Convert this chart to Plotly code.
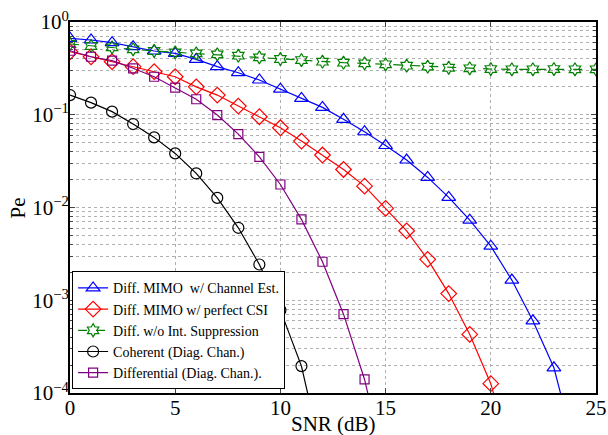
import plotly.graph_objects as go

snr_chest = list(range(0, 25))
pe_chest = [0.667, 0.64, 0.598, 0.542, 0.487, 0.459, 0.396, 0.33, 0.284, 0.237, 0.189, 0.150,
            0.120, 0.0892, 0.0656, 0.0466, 0.0325, 0.0211, 0.01285, 0.00731, 0.00383, 0.00165,
            0.0006, 0.000187, 0.000025]

snr_csi = list(range(0, 22))
pe_csi = [0.478, 0.422, 0.373, 0.330, 0.291, 0.257, 0.200, 0.163, 0.124, 0.0952, 0.0724, 0.052,
          0.0368, 0.0257, 0.017, 0.00978, 0.00561, 0.00276, 0.00118, 0.000428, 0.000126, 0.00002]

snr_noint = list(range(0, 26))
pe_noint = [0.579, 0.551, 0.533, 0.508, 0.487, 0.471, 0.459, 0.448, 0.433, 0.416, 0.399, 0.389,
            0.373, 0.364, 0.358, 0.350, 0.338, 0.330, 0.321, 0.317, 0.311, 0.309, 0.309, 0.311,
            0.309, 0.309]

snr_coh = list(range(0, 13))
pe_coh = [0.163, 0.135, 0.108, 0.0794, 0.057, 0.0383, 0.0233, 0.0127, 0.00604, 0.00243,
          0.000782, 0.000195, 0.00002]

snr_diff = list(range(0, 16))
pe_diff = [0.49, 0.422, 0.383, 0.317, 0.257, 0.196, 0.147, 0.0993, 0.0619, 0.0352, 0.0177,
           0.00744, 0.0026, 0.000708, 0.00014, 0.000015]

names = ["Diff. MIMO  w/ Channel Est.", "Diff. MIMO w/ perfect CSI", "Diff. w/o Int. Suppression",
         "Coherent (Diag. Chan.)", "Differential (Diag. Chan.)."]
x_ticks = [0, 5, 10, 15, 20, 25]
y_tickvals = [1, 0.1, 0.01, 0.001, 0.0001]
y_ticktext = ["10<sup>0</sup>", "10<sup>−1</sup>", "10<sup>−2</sup>", "10<sup>−3</sup>", "10<sup>−4</sup>"]
x_title = "SNR (dB)"
y_title = "Pe"

series = [
    (snr_chest, pe_chest, "blue", "triangle-up-open", "solid", 12),
    (snr_csi, pe_csi, "red", "diamond-open", "solid", 12),
    (snr_noint, pe_noint, "green", "hexagram-open", "dash", 10),
    (snr_coh, pe_coh, "black", "circle-open", "solid", 11),
    (snr_diff, pe_diff, "purple", "square-open", "solid", 9),
]

fig = go.Figure()
for (x, y, c, sym, dash, sz), nm in zip(series, names):
    fig.add_trace(go.Scatter(x=x, y=y, name=nm, mode="lines+markers",
                             line=dict(color=c, width=1.2, dash=dash),
                             marker=dict(symbol=sym, size=sz, color=c, line=dict(color=c, width=1.2))))

font_family = "Liberation Serif"
grid_col = "#b0b0b0"
fig.update_layout(
    width=608, height=435,
    margin=dict(l=70, r=12, t=22, b=42, autoexpand=False),
    paper_bgcolor="white", plot_bgcolor="white",
    font=dict(family=font_family, size=21, color="black"),
    showlegend=True,
    legend=dict(x=0.004, y=0.01, xanchor="left", yanchor="bottom",
                bgcolor="white", bordercolor="black", borderwidth=1,
                font=dict(size=14, family=font_family), tracegroupgap=0,
                itemwidth=30, traceorder="normal"),
)
fig.add_annotation(text=x_title, xref="paper", yref="paper", x=0.5, y=-0.083,
                   xanchor="center", yanchor="middle", showarrow=False,
                   font=dict(size=21, family=font_family))
fig.add_annotation(text=y_title, xref="paper", yref="paper", x=-0.099, y=0.5,
                   xanchor="center", yanchor="middle", showarrow=False, textangle=-90,
                   font=dict(size=21, family=font_family))
fig.update_xaxes(
    range=[0, 25], tickvals=x_ticks, ticks="inside", ticklen=5, tickwidth=1,
    tickfont=dict(size=21), automargin=False, ticklabelstandoff=-5,
    showline=True, linecolor="black", linewidth=2, mirror="ticks",
    showgrid=True, gridcolor=grid_col, griddash="dot", gridwidth=1,
    zeroline=False,
)
fig.update_yaxes(
    type="log", range=[-4, 0], tickvals=y_tickvals, ticktext=y_ticktext,
    ticks="inside", ticklen=5, tickwidth=1,
    tickfont=dict(size=21), automargin=False, ticklabelstandoff=-5,
    showline=True, linecolor="black", linewidth=2, mirror="ticks",
    showgrid=True, gridcolor=grid_col, griddash="dot", gridwidth=1,
    minor=dict(tickvals=[m * 10 ** e for e in range(-4, 0) for m in range(2, 10)],
               ticks="inside", ticklen=3, showgrid=True, gridcolor=grid_col, griddash="dot"),
    zeroline=False,
)
fig.write_html("out.html")
